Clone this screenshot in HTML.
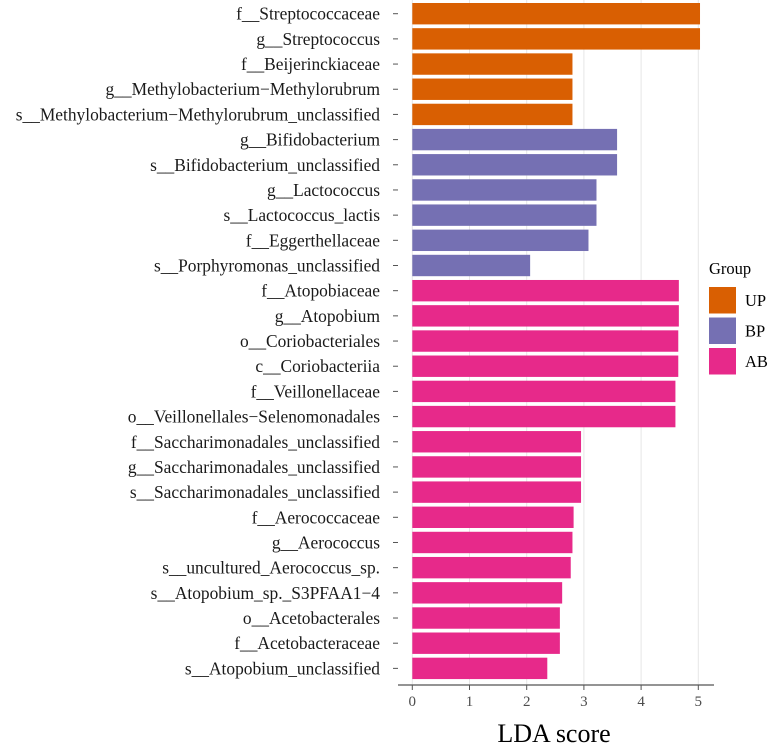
<!DOCTYPE html>
<html><head><meta charset="utf-8">
<style>
html,body{margin:0;padding:0;background:#fff;}
svg{display:block;font-family:"Liberation Serif",serif;}
</style></head>
<body>
<svg id="chart" width="774" height="746" viewBox="0 0 774 746" xmlns="http://www.w3.org/2000/svg">
<g id="grid"></g>
<g id="bars"></g>
<g id="ylabels"></g>
<g id="xaxis"></g>
<text x="554" y="742" text-anchor="middle" font-size="26" fill="#000">LDA score</text>
<g id="legend">
<text x="709" y="274" font-size="16.5" fill="#000">Group</text>
</g>
</svg>
<script>
const categories = ["f__Streptococcaceae","g__Streptococcus","f__Beijerinckiaceae","g__Methylobacterium\u2212Methylorubrum","s__Methylobacterium\u2212Methylorubrum_unclassified","g__Bifidobacterium","s__Bifidobacterium_unclassified","g__Lactococcus","s__Lactococcus_lactis","f__Eggerthellaceae","s__Porphyromonas_unclassified","f__Atopobiaceae","g__Atopobium","o__Coriobacteriales","c__Coriobacteriia","f__Veillonellaceae","o__Veillonellales\u2212Selenomonadales","f__Saccharimonadales_unclassified","g__Saccharimonadales_unclassified","s__Saccharimonadales_unclassified","f__Aerococcaceae","g__Aerococcus","s__uncultured_Aerococcus_sp.","s__Atopobium_sp._S3PFAA1\u22124","o__Acetobacterales","f__Acetobacteraceae","s__Atopobium_unclassified"];
const values = [5.03,5.03,2.80,2.80,2.80,3.58,3.58,3.22,3.22,3.08,2.06,4.66,4.66,4.65,4.65,4.60,4.60,2.95,2.95,2.95,2.82,2.80,2.77,2.62,2.58,2.58,2.36];
const groups = ["UP","UP","UP","UP","UP","BP","BP","BP","BP","BP","BP","AB","AB","AB","AB","AB","AB","AB","AB","AB","AB","AB","AB","AB","AB","AB","AB"];
const groupNames = ["UP","BP","AB"];
const groupColors = ["#d95f02","#7570b3","#e7298a"];
const xTicks = [0,1,2,3,4,5];

const NS="http://www.w3.org/2000/svg";
const x0=412.3, pxPer=57.2, top0=3, pitch=25.18, bh=21.4;
function xs(v){return x0+v*pxPer;}
function ys(i){return top0+i*pitch;}
function mk(tag,attrs,parent){const e=document.createElementNS(NS,tag);for(const k in attrs)e.setAttribute(k,attrs[k]);parent.appendChild(e);return e;}
const grid=document.getElementById('grid'),bars=document.getElementById('bars'),yl=document.getElementById('ylabels'),xa=document.getElementById('xaxis'),lg=document.getElementById('legend');
const plotBottom=685;
xTicks.forEach(t=>{
  const l=mk('line',{x1:xs(t),x2:xs(t),y1:0,y2:plotBottom,stroke:'#e6e6e6','stroke-width':1},grid);
  
  
  const tk=mk('line',{x1:xs(t),x2:xs(t),y1:plotBottom,y2:plotBottom+5,stroke:'#555','stroke-width':1},xa);
  
  
  const tx=mk('text',{x:xs(t),y:706,'text-anchor':'middle','font-size':15,fill:'#4d4d4d'},xa);
  tx.textContent=t;
  
  
});
const ax=mk('line',{x1:398,x2:714,y1:plotBottom,y2:plotBottom,stroke:'#555','stroke-width':1.2},xa);


categories.forEach((c,i)=>{
  const col=groupColors[groupNames.indexOf(groups[i])];
  const r=mk('rect',{x:xs(0),y:ys(i),width:xs(values[i])-xs(0),height:bh,fill:col},bars);
  
  
  const cy=ys(i)+bh/2;
  const t=mk('text',{x:380,y:cy+6,'text-anchor':'end','font-size':17.4,fill:'#1a1a1a'},yl);
  t.textContent=c;
  
  
  const tk=mk('line',{x1:393,x2:398,y1:cy,y2:cy,stroke:'#555','stroke-width':1},yl);
  
  
});
groupNames.forEach((g,i)=>{
  const y=287+i*30.5;
  const r=mk('rect',{x:709,y:y,width:27,height:26.5,fill:groupColors[i]},lg);
  
  
  const t=mk('text',{x:745,y:y+19,'font-size':16.5,fill:'#000'},lg);
  t.textContent=g;
  
  
});
</script>
</body></html>
